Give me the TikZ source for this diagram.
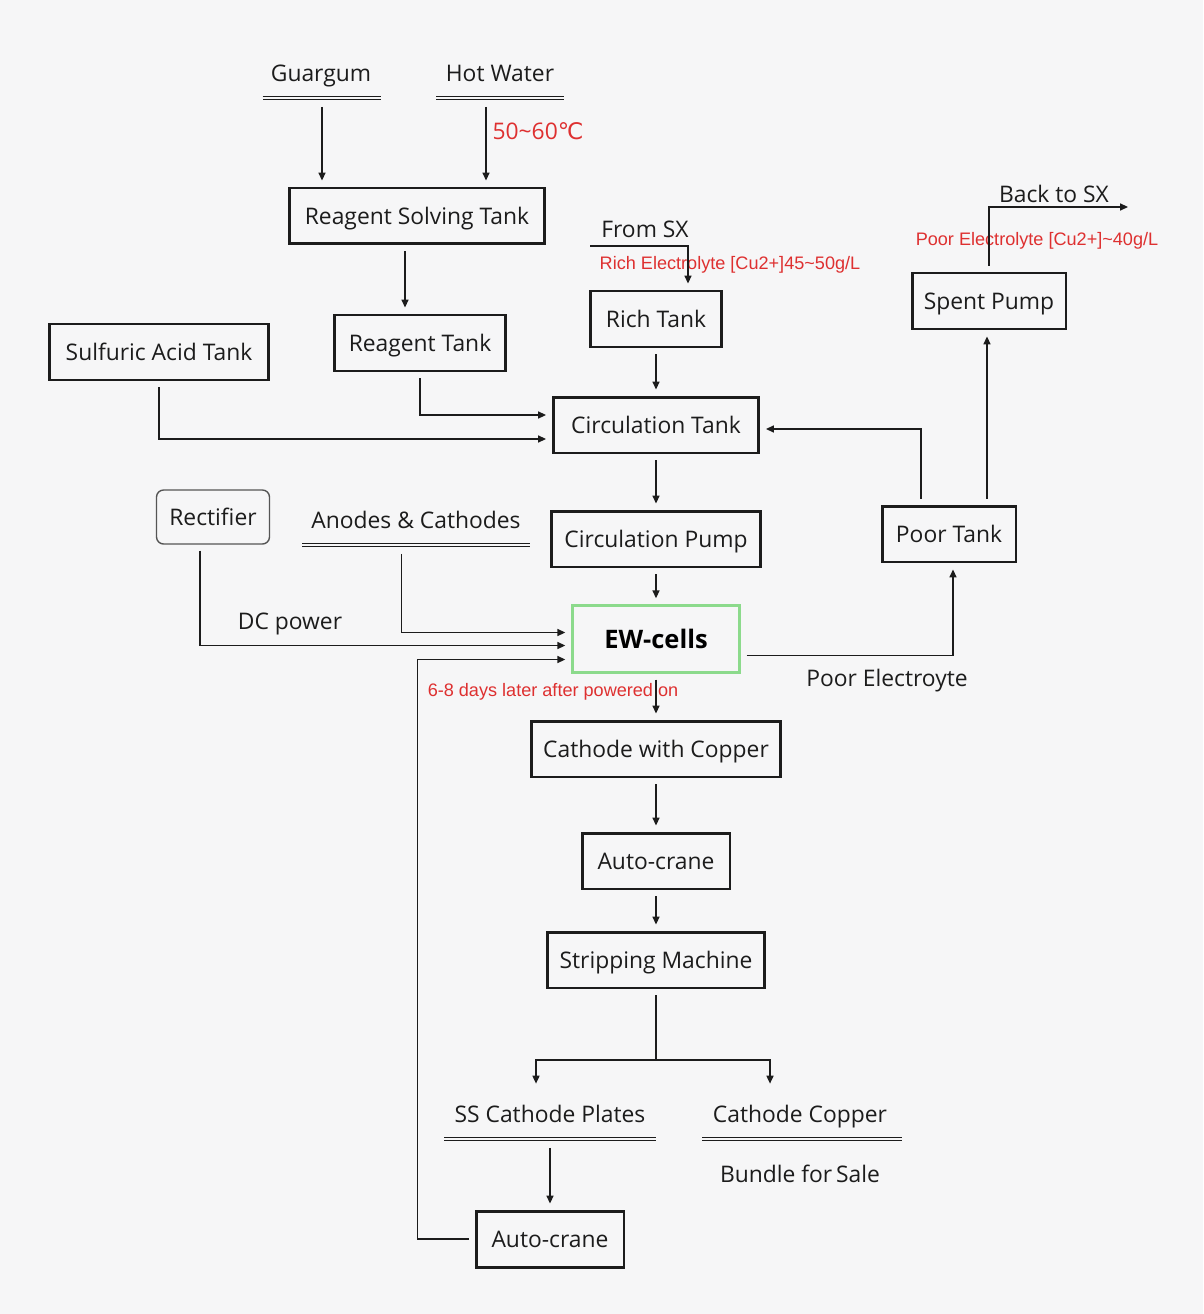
\documentclass[tikz,border=0pt]{standalone}
\usepackage{fontspec}
\setmainfont{Open Sans}
\newfontfamily\notefont{Liberation Sans}
\newfontfamily\symfont{DejaVu Sans}
\usetikzlibrary{arrows.meta}

\definecolor{bgcol}{RGB}{246,246,247}
\definecolor{inkcol}{RGB}{28,28,28}
\definecolor{notered}{RGB}{222,48,48}
\definecolor{cellgreen}{RGB}{140,218,140}

\tikzset{
    box/.style={draw=inkcol,line width=1.7pt,minimum height=1.12cm,inner sep=2pt},
    bar/.style={inner sep=0pt,minimum height=0.1cm,text height=0pt,text depth=0pt},
    dbl/.style={draw=inkcol,double=bgcol,double distance=1.3pt,line width=0.65pt},
    flow/.style={draw=inkcol,line width=0.8pt,-{Triangle[length=4.5pt,width=4pt]},
                 shorten <=0.12cm,shorten >=0.12cm},
    note/.style={text=notered,font=\notefont\fontsize{10.3}{12}\selectfont,text height=7.4pt}
}

\begin{document}
\begin{tikzpicture}[x=0.02cm,y=-0.02cm,font=\fontsize{13}{15.6}\selectfont,text=inkcol,
                    text height=9.3pt,text depth=0pt]
\fill[bgcol] (0,0) rectangle (1203,1314);
\begin{scope}[every node/.style={box}]
    \node[minimum width=5.12cm] (rst) at (417,216) {Reagent Solving Tank};
    \node[minimum width=3.44cm] (reag) at (420,343) {Reagent Tank};
    \node[minimum width=4.40cm] (acid) at (159,352) {Sulfuric Acid Tank};
    \node[minimum width=2.62cm] (rich) at (656,319) {Rich Tank};
    \node[minimum width=4.10cm] (circ) at (656,425) {Circulation Tank};
    \node[minimum width=4.18cm] (pump) at (656,539) {Circulation Pump};
    \node[minimum width=2.68cm] (poor) at (949,534) {Poor Tank};
    \node[minimum width=3.08cm] (spent) at (989,301) {Spent Pump};
    \node[minimum width=4.98cm] (cwc) at (656,749) {Cathode with Copper};
    \node[minimum width=2.96cm] (crane1) at (656,861) {Auto-crane};
    \node[minimum width=4.34cm] (strip) at (656,960) {Stripping Machine};
    \node[minimum width=2.96cm] (crane2) at (550,1239) {Auto-crane};
\end{scope}
\node[draw=inkcol!75,line width=0.8pt,rounded corners=4pt,minimum width=2.26cm,
      minimum height=1.08cm] (rect) at (213,517) {Rectifier};
\node[draw=cellgreen,line width=1.4pt,minimum width=3.34cm,minimum height=1.34cm,
      font=\fontsize{14.5}{17}\selectfont\bfseries,text=black,text height=10.4pt] (ew) at (656,639) {EW-cells};

% stock lines
\node (guar) at (321,73) {Guargum};
\node[bar,minimum width=2.36cm] (guarbar) at (322,98) {};
\node (hot) at (500,73) {Hot Water};
\node[bar,minimum width=2.54cm] (hotbar) at (500,98) {};
\node (anod) at (416,520) {Anodes \& Cathodes};
\node[bar,minimum width=4.54cm] (anodbar) at (416,545) {};
\node (ssp) at (550,1114) {SS Cathode Plates};
\node[bar,minimum width=4.22cm] (sspbar) at (550,1139) {};
\node (cu) at (800,1114) {Cathode Copper};
\node[bar,minimum width=3.98cm] (cubar) at (802,1139) {};
\node (bundle) at (800,1174) {Bundle for\,Sale};
\foreach \b in {guarbar,hotbar,anodbar,sspbar,cubar}
    \draw[dbl] (\b.west) -- (\b.east);

% labels
\node (fromsx) at (645,229) {From SX};
\node (backsx) at (1054,194) {Back to SX};
\node (dc) at (290,621) {DC power};
\node (poorel) at (887,678) {Poor Electroyte};
\node[text=notered] (temp) at (538,131) {50\textasciitilde 60{\symfont ℃}};
\node[note] (richnote) at (730,263) {Rich Electrolyte [Cu2+]45\textasciitilde 50g/L};
\node[note] (poornote) at (1037,239) {Poor Electrolyte [Cu2+]\textasciitilde 40g/L};
\node[note] (daysnote) at (553,690) {6-8 days later after powered on};

% connectors
\coordinate (hotin) at ([xshift=-0.28cm]hotbar.south);
\coordinate (rstout) at ([xshift=-0.24cm]rst.south);
\coordinate (sxin) at (590,246);
\coordinate (richin) at ([xshift=0.64cm]rich.north);
\coordinate (sxout) at (1128,207);
\coordinate (poorup) at ([xshift=0.76cm]poor.north);
\coordinate (split) at (656,1060);
\draw[flow] (guarbar.south) -- (guarbar.south |- rst.north);
\draw[flow] (hotin) -- (hotin |- rst.north);
\draw[flow] (rstout) -- (rstout |- reag.north);
\draw[flow,shorten <=0pt] (sxin) -| (richin);
\draw[flow] (reag.south) |- ([yshift=0.2cm]circ.west);
\draw[flow] (acid.south) |- ([yshift=-0.28cm]circ.west);
\draw[flow] ([xshift=-0.56cm]poor.north) |- ([yshift=-0.08cm]circ.east);
\draw[flow] (poorup) -- (poorup |- spent.south);
\draw[flow,shorten >=0pt] (spent.north) |- (sxout);
\draw[flow] ([xshift=-0.26cm]rect.south) |- ([yshift=-0.13cm]ew.west);
\draw[flow] ([xshift=-0.29cm]anodbar.south) |- ([yshift=0.13cm]ew.west);
\draw[flow] (crane2.west) -- ++(-57,0) |- ([yshift=-0.41cm]ew.west);
\draw[flow] ([yshift=-0.33cm]ew.east) -| ([xshift=0.08cm]poor.south);
\draw[line width=0.8pt,draw=inkcol,shorten <=0.12cm] (strip.south) -- (split);
\draw[flow,shorten <=0pt] (split) -| ([xshift=-0.28cm,yshift=0.2cm]ssp.north);
\draw[flow,shorten <=0pt] (split) -| ([xshift=-0.6cm,yshift=0.2cm]cu.north);
\begin{scope}[every edge/.style={flow}]
    \path (rich) edge (circ);
    \path (circ) edge (pump);
    \path (pump) edge (ew);
    \path (ew) edge (cwc);
    \path (cwc) edge (crane1);
    \path (crane1) edge (strip);
    \path (sspbar) edge (crane2);
\end{scope}
\end{tikzpicture}
\end{document}
